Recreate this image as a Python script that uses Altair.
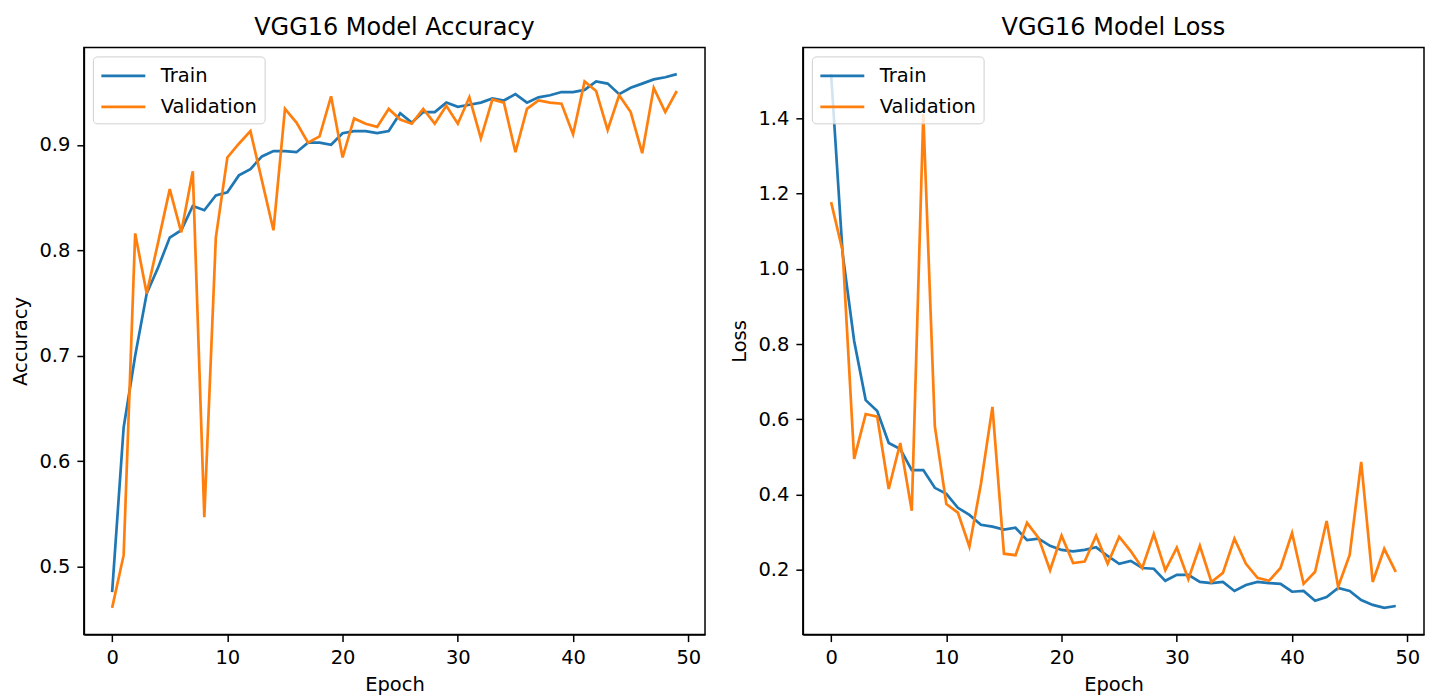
import altair as alt
import pandas as pd

epochs = list(range(50))

train_acc = [0.476, 0.632, 0.700, 0.759, 0.784, 0.812, 0.819, 0.842, 0.838, 0.852,
             0.855, 0.871, 0.877, 0.889, 0.894, 0.894, 0.893, 0.902, 0.902, 0.900,
             0.911, 0.913, 0.913, 0.911, 0.913, 0.930, 0.921, 0.931, 0.931, 0.940,
             0.936, 0.938, 0.940, 0.944, 0.942, 0.948, 0.940, 0.945, 0.947, 0.950,
             0.950, 0.952, 0.960, 0.958, 0.948, 0.954, 0.958, 0.962, 0.964, 0.967]
val_acc = [0.461, 0.511, 0.816, 0.759, 0.808, 0.858, 0.817, 0.875, 0.547, 0.812,
           0.888, 0.901, 0.913, 0.866, 0.819, 0.934, 0.921, 0.902, 0.908, 0.946,
           0.888, 0.925, 0.920, 0.917, 0.934, 0.924, 0.920, 0.934, 0.920, 0.937,
           0.920, 0.945, 0.906, 0.943, 0.940, 0.893, 0.934, 0.942, 0.940, 0.939,
           0.910, 0.960, 0.951, 0.914, 0.947, 0.931, 0.892, 0.954, 0.931, 0.951]
train_loss = [1.517, 1.040, 0.808, 0.651, 0.622, 0.537, 0.521, 0.465, 0.465, 0.418,
              0.402, 0.365, 0.346, 0.320, 0.315, 0.307, 0.312, 0.279, 0.283, 0.264,
              0.253, 0.249, 0.253, 0.260, 0.237, 0.216, 0.224, 0.205, 0.203, 0.171,
              0.187, 0.187, 0.168, 0.165, 0.168, 0.144, 0.160, 0.168, 0.165, 0.163,
              0.142, 0.144, 0.118, 0.128, 0.152, 0.144, 0.120, 0.107, 0.099, 0.104]
val_loss = [1.177, 1.047, 0.495, 0.614, 0.607, 0.415, 0.537, 0.357, 1.410, 0.582,
            0.375, 0.352, 0.262, 0.428, 0.633, 0.243, 0.239, 0.325, 0.285, 0.199,
            0.291, 0.218, 0.222, 0.291, 0.216, 0.288, 0.250, 0.205, 0.295, 0.199,
            0.259, 0.175, 0.264, 0.168, 0.192, 0.283, 0.216, 0.179, 0.171, 0.205,
            0.298, 0.163, 0.195, 0.330, 0.155, 0.240, 0.487, 0.168, 0.256, 0.195]

series_names = ["Train", "Validation"]
colors = ["#1f77b4", "#ff7f0e"]
x_ticks = [0, 10, 20, 30, 40, 50]
acc_ticks = [0.5, 0.6, 0.7, 0.8, 0.9]
loss_ticks = [0.2, 0.4, 0.6, 0.8, 1.0, 1.2, 1.4]

FONT = "DejaVu Sans"
TXT = 19.5


def panel(train, val, title, ytitle, yticks):
    df = pd.DataFrame({
        "Epoch": epochs + epochs,
        "value": train + val,
        "series": [series_names[0]] * len(train) + [series_names[1]] * len(val),
    })
    lo = min(train + val)
    hi = max(train + val)
    m = (hi - lo) * 0.05
    return alt.Chart(df, title=alt.Title(title, fontSize=24, font=FONT, fontWeight="normal",
                                         color="black", offset=7)).mark_line(strokeWidth=2.7).encode(
        x=alt.X("Epoch:Q", title="Epoch",
                scale=alt.Scale(domain=[-2.45, 51.45], nice=False, zero=False),
                axis=alt.Axis(values=x_ticks, format="d")),
        y=alt.Y("value:Q", title=ytitle,
                scale=alt.Scale(domain=[lo - m, hi + m], nice=False, zero=False),
                axis=alt.Axis(values=yticks, format=".1f")),
        color=alt.Color("series:N",
                        scale=alt.Scale(domain=series_names, range=colors),
                        legend=alt.Legend(title=None, orient="top-left", offset=9,
                                          fillColor="rgba(255,255,255,0.8)",
                                          strokeColor="#d0d0d0", cornerRadius=4,
                                          padding=7, symbolType="M-1,0H3",
                                          symbolStrokeWidth=2.7, symbolSize=484,
                                          labelFontSize=TXT, labelFont=FONT,
                                          labelColor="black", rowPadding=9,
                                          labelOffset=36)),
    ).properties(width=622, height=588)


left = panel(train_acc, val_acc, "VGG16 Model Accuracy", "Accuracy", acc_ticks)
right = panel(train_loss, val_loss, "VGG16 Model Loss", "Loss", loss_ticks)

chart = alt.hconcat(left, right, spacing=23).resolve_legend(color="independent").resolve_scale(
    color="independent").properties(padding={"left": 2, "top": 7, "right": 0, "bottom": 0}).configure_view(
    stroke="black", strokeWidth=1.5).configure_axis(
    grid=False, domainColor="black", domainWidth=1.5, tickColor="black", tickWidth=1.5,
    tickSize=7, labelFontSize=TXT,
    labelFont=FONT, labelColor="black", titleFont=FONT, titleFontSize=TXT,
    titleFontWeight="normal", titleColor="black", labelPadding=7, titlePadding=8)

chart.save("out.html", embed_options={"renderer": "svg", "actions": False})
